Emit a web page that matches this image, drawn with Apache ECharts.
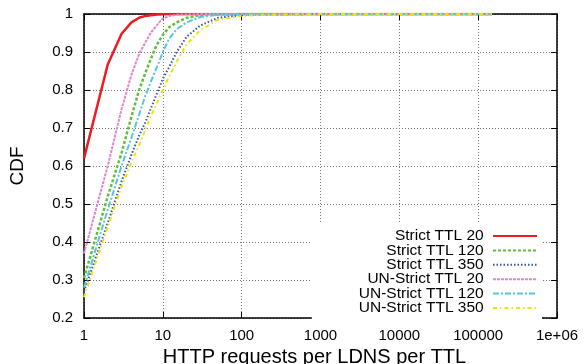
<!DOCTYPE html>
<html>
<head>
<meta charset="utf-8">
<script src="https://cdn.jsdelivr.net/npm/echarts@6/dist/echarts.min.js"></script>
<style>html,body{margin:0;padding:0;background:#fff}#c{width:584px;height:364px}</style>
</head>
<body>
<div id="c"></div>
<script>
const xs = [1,2,3,4,5,6,7,8,9,10,12,15,20,30,50,100,200,1000,10000,150000];
const strict20   = [0.62,0.867,0.948,0.978,0.99,0.995,0.997,0.998,0.999,0.9995,1,1,1,1,1,1,1,1,1,1];
const strict120  = [0.305,0.52,0.635,0.73,0.80,0.845,0.88,0.91,0.93,0.945,0.965,0.978,0.99,0.997,0.999,1,1,1,1,1];
const strict350  = [0.27,0.45,0.56,0.63,0.68,0.715,0.75,0.78,0.805,0.83,0.86,0.90,0.94,0.97,0.99,0.997,0.999,1,1,1];
const unstrict20 = [0.37,0.60,0.75,0.84,0.895,0.925,0.95,0.965,0.978,0.988,0.995,0.998,0.999,1,1,1,1,1,1,1];
const unstrict120= [0.28,0.485,0.60,0.675,0.735,0.785,0.82,0.85,0.875,0.90,0.935,0.96,0.978,0.992,0.998,0.9995,1,1,1,1];
const unstrict350= [0.255,0.44,0.545,0.61,0.655,0.695,0.73,0.755,0.78,0.80,0.835,0.875,0.92,0.958,0.985,0.995,0.998,1,1,1];
const seriesNames = ['Strict TTL 20','Strict TTL 120','Strict TTL 350','UN-Strict TTL 20','UN-Strict TTL 120','UN-Strict TTL 350'];
const seriesValues = [strict20, strict120, strict350, unstrict20, unstrict120, unstrict350];
const xTickLabels = {1:'1',10:'10',100:'100',1000:'1000',10000:'10000',100000:'100000',1000000:'1e+06'};
const yMin = 0.2, yMax = 1, yStep = 0.1;

const styles = [
  {color:'#ee1c22', width:2.5, type:'solid'},
  {color:'#5fbf3c', width:2.5, type:[3,2]},
  {color:'#3552b0', width:2, type:[1.5,2]},
  {color:'#e088cc', width:2, type:[3,1]},
  {color:'#55c6de', width:2, type:[6,2,2,2]},
  {color:'#f0e400', width:2, type:[4,3,1.5,3]}
];
const FONT = 'Liberation Sans, Arial, Helvetica, sans-serif';
const frame = {show:true, lineStyle:{color:'#000', width:1.5}};
const split = {show:true, lineStyle:{color:'#777', type:[1,2], width:1}};
const ticks = {show:true, inside:true, length:6, lineStyle:{color:'#000', width:1}};

const chart = echarts.init(document.getElementById('c'), null, {renderer:'canvas'});
chart.setOption({
  animation:false,
  backgroundColor:'#fff',
  textStyle:{fontFamily:FONT},
  grid:{left:84, right:27, top:14, bottom:46, containLabel:false, outerBoundsMode:'none'},
  legend:{
    orient:'vertical', right:42, top:222, align:'right',
    padding:[6,4,4,47], backgroundColor:'#fff',
    itemWidth:44, itemHeight:14.5, itemGap:-1.6,
    itemStyle:{opacity:0},
    textStyle:{fontSize:15.5, color:'#000', fontFamily:FONT, lineHeight:14.5},
    formatter: n => n + ' ',
    data: seriesNames
  },
  xAxis:[{
    type:'log', logBase:10, min:1, max:1000000, position:'bottom',
    axisLine:frame, axisTick:ticks,
    axisLabel:{fontSize:15, color:'#000', margin:10, fontFamily:FONT,
      formatter: v => xTickLabels[Math.round(v)] || ''},
    splitLine:split,
    name:'HTTP requests per LDNS per TTL', nameLocation:'middle', nameGap:24,
    nameTextStyle:{fontSize:20, color:'#000', fontFamily:FONT, padding:[0,12,0,0]}
  },{
    type:'log', logBase:10, min:1, max:1000000, position:'top',
    axisLine:frame, axisTick:ticks,
    axisLabel:{show:false}, splitLine:{show:false}
  }],
  yAxis:[{
    type:'value', min:yMin, max:yMax, interval:yStep, position:'left',
    axisLine:frame, axisTick:ticks,
    axisLabel:{fontSize:15, color:'#000', margin:11, fontFamily:FONT,
      formatter: v => String(+v.toFixed(1))},
    splitLine:split,
    name:'CDF', nameLocation:'middle', nameGap:57,
    nameTextStyle:{fontSize:19, color:'#000', fontFamily:FONT}
  },{
    type:'value', min:yMin, max:yMax, interval:yStep, position:'right',
    axisLine:frame, axisTick:ticks,
    axisLabel:{show:false}, splitLine:{show:false}
  }],
  series: seriesNames.map((name,i)=>({
    name, type:'line', xAxisIndex:0, yAxisIndex:0,
    symbol:'none', showSymbol:false, smooth:false,
    data: xs.map((x,j)=>[x, seriesValues[i][j]]),
    lineStyle:{color:styles[i].color, width:styles[i].width, type:styles[i].type},
    itemStyle:{color:styles[i].color},
    z: 2 + i
  }))
});
</script>
</body>
</html>
